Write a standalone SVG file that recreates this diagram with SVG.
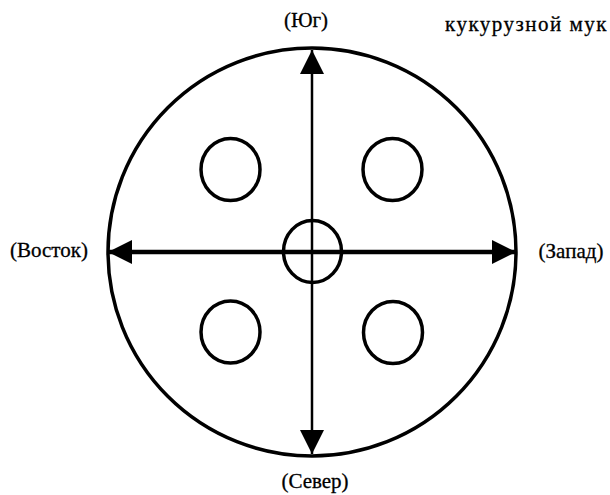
<svg xmlns="http://www.w3.org/2000/svg" width="610" height="495" viewBox="0 0 610 495">
<style>
.c{fill:none;stroke:#000;stroke-width:3.5}
.t{font-family:"Liberation Serif","DejaVu Serif",serif;font-size:21px;fill:#000;stroke:#000;stroke-width:0.3}
</style>
<defs>
<marker id="ah" viewBox="0 0 24 24" refX="24" refY="12" markerWidth="24" markerHeight="24" markerUnits="userSpaceOnUse" orient="auto">
<path d="M0,0 L24,12 L0,24 Z" fill="#000"/>
</marker>
</defs>
<rect width="610" height="495" fill="#fff"/>
<g id="plate"><circle class="c" cx="312" cy="252" r="204"/></g>
<g id="hole-center"><ellipse class="c" cx="312.5" cy="251.5" rx="29" ry="31"/></g>
<g id="hole-nw"><ellipse class="c" cx="230.5" cy="169.5" rx="29.5" ry="31"/></g>
<g id="hole-ne"><ellipse class="c" cx="392.5" cy="169.5" rx="29.5" ry="31"/></g>
<g id="hole-sw"><ellipse class="c" cx="230.5" cy="332" rx="29.5" ry="31"/></g>
<g id="hole-se"><ellipse class="c" cx="393" cy="332.5" rx="29.5" ry="31"/></g>
<g id="connectors">
<line x1="312" y1="252" x2="312" y2="50" stroke="#000" stroke-width="2.5" marker-end="url(#ah)"/>
<line x1="312" y1="252" x2="312" y2="454" stroke="#000" stroke-width="2.5" marker-end="url(#ah)"/>
<line x1="312" y1="252" x2="108" y2="252" stroke="#000" stroke-width="4.5" marker-end="url(#ah)"/>
<line x1="312" y1="252" x2="516" y2="252" stroke="#000" stroke-width="4.5" marker-end="url(#ah)"/>
</g>
<g id="labels">
<text class="t" x="306" y="27" text-anchor="middle">(Юг)</text>
<text class="t" x="49" y="257" text-anchor="middle">(Восток)</text>
<text class="t" x="571" y="258" text-anchor="middle">(Запад)</text>
<text class="t" x="315" y="488" text-anchor="middle">(Север)</text>
<text class="t" x="445" y="31" letter-spacing="1.5">кукурузной мук</text>
</g>
</svg>
